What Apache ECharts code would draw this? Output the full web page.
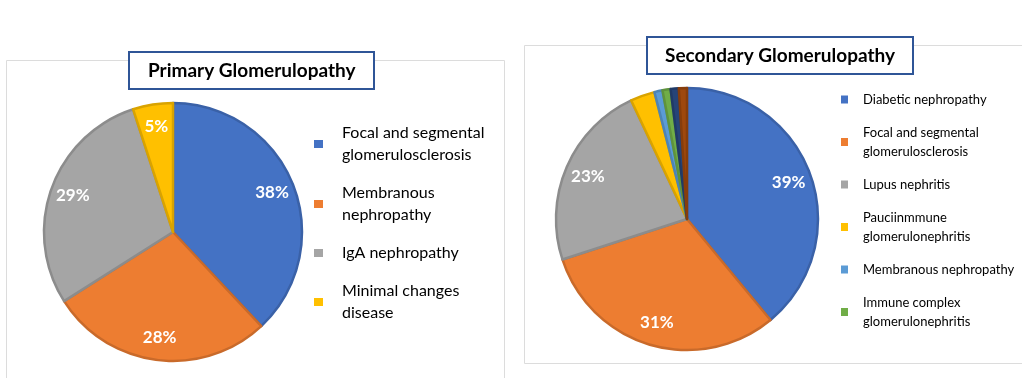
<!DOCTYPE html>
<html>
<head>
<meta charset="utf-8">
<script src="https://cdn.jsdelivr.net/npm/echarts@6/dist/echarts.min.js"></script>
<style>
html,body{margin:0;padding:0;background:#fff;}
#chart{width:1022px;height:378px;}
</style>
</head>
<body>
<div id="chart"></div>
<script>
// ---- data ----
const primaryTitle = 'Primary Glomerulopathy';
const primaryNames = ['Focal and segmental\nglomerulosclerosis', 'Membranous\nnephropathy', 'IgA nephropathy', 'Minimal changes\ndisease'];
const primaryValues = [38, 28, 29, 5];
const primaryColors = ['#4472C4', '#ED7D31', '#A5A5A5', '#FFC000'];

const secondaryTitle = 'Secondary Glomerulopathy';
const secondaryNames = ['Diabetic nephropathy', 'Focal and segmental\nglomerulosclerosis ', 'Lupus nephritis', 'Pauciinmmune\nglomerulonephritis', 'Membranous nephropathy', 'Immune complex\nglomerulonephritis', 'Other (a)', 'Other (b)'];
const secondaryValues = [39, 31, 23, 3, 1, 1, 1, 1];
const secondaryColors = ['#4472C4', '#ED7D31', '#A5A5A5', '#FFC000', '#5B9BD5', '#70AD47', '#264478', '#9E480E'];
const secondaryLegendCount = 6;

function darken(hex, f) {
  const n = parseInt(hex.slice(1), 16);
  const r = Math.round(((n >> 16) & 255) * f), g = Math.round(((n >> 8) & 255) * f), b = Math.round((n & 255) * f);
  return 'rgb(' + r + ',' + g + ',' + b + ')';
}
function pieData(names, values, colors) {
  return names.map((n, i) => ({
    name: n, value: values[i],
    itemStyle: { color: colors[i], borderColor: darken(colors[i], 0.85), borderWidth: 2.5 }
  }));
}
function labelData(names, values) {
  return names.map((n, i) => ({ name: n, value: values[i] }));
}
const FONT = 'Lato';

const chart = echarts.init(document.getElementById('chart'), null, { renderer: 'canvas' });

const labelStyle = {
  show: true, position: 'inside', color: '#fff', fontFamily: FONT, fontWeight: 'bold', fontSize: 17,
  formatter: p => (p.value >= 5 ? p.value + '%' : '')
};

const option = {
  backgroundColor: '#fff',
  animation: false,
  graphic: [
    { type: 'rect', z: -10, shape: { x: 6.5, y: 60.5, width: 498, height: 330 }, style: { fill: 'none', stroke: '#dcdcdc', lineWidth: 1 } },
    { type: 'rect', z: -10, shape: { x: 524.5, y: 45.5, width: 520, height: 318 }, style: { fill: 'none', stroke: '#dcdcdc', lineWidth: 1 } }
  ],
  title: [
    {
      text: primaryTitle, left: 129, top: 52, padding: [9, 19],
      borderColor: '#2F5597', borderWidth: 2, backgroundColor: '#fff',
      textStyle: { fontFamily: FONT, fontWeight: 'bold', fontSize: 19, color: '#000' }
    },
    {
      text: secondaryTitle, left: 647, top: 37, padding: [9, 18],
      borderColor: '#2F5597', borderWidth: 2, backgroundColor: '#fff',
      textStyle: { fontFamily: FONT, fontWeight: 'bold', fontSize: 19, color: '#000' }
    }
  ],
  legend: [
    {
      orient: 'vertical', left: 314, top: 122, padding: 0, itemGap: 16, itemWidth: 9, itemHeight: 8,
      icon: 'rect', selectedMode: false,
      itemStyle: { borderWidth: 0 },
      textStyle: { fontFamily: FONT, fontSize: 16, lineHeight: 22, color: '#000', padding: [0, 0, 0, 14] },
      data: primaryNames.map((n, i) => ({ name: n, itemStyle: { color: primaryColors[i], borderWidth: 0 } }))
    },
    {
      orient: 'vertical', left: 841, top: 90, padding: 0, itemGap: 14, itemWidth: 7, itemHeight: 8,
      icon: 'rect', selectedMode: false,
      itemStyle: { borderWidth: 0 },
      textStyle: { fontFamily: FONT, fontSize: 13, lineHeight: 19, color: '#000', padding: [0, 0, 0, 10] },
      data: secondaryNames.slice(0, secondaryLegendCount).map((n, i) => ({ name: n, itemStyle: { color: secondaryColors[i], borderWidth: 0 } }))
    }
  ],
  series: [
    {
      type: 'pie', center: [173, 232], radius: [0, 129], startAngle: 90, clockwise: true,
      label: { show: false }, labelLine: { show: false }, emphasis: { disabled: true },
      data: pieData(primaryNames, primaryValues, primaryColors)
    },
    {
      type: 'pie', center: [173, 232], radius: [78, 129], startAngle: 90, clockwise: true, silent: true,
      itemStyle: { color: 'transparent', borderWidth: 0 }, label: labelStyle, labelLine: { show: false },
      emphasis: { disabled: true }, z: 5,
      data: labelData(primaryNames, primaryValues)
    },
    {
      type: 'pie', center: [687, 219], radius: [0, 131], startAngle: 90, clockwise: true,
      label: { show: false }, labelLine: { show: false }, emphasis: { disabled: true },
      data: pieData(secondaryNames, secondaryValues, secondaryColors)
    },
    {
      type: 'pie', center: [687, 219], radius: [79, 131], startAngle: 90, clockwise: true, silent: true,
      itemStyle: { color: 'transparent', borderWidth: 0 }, label: labelStyle, labelLine: { show: false },
      emphasis: { disabled: true }, z: 5,
      data: labelData(secondaryNames, secondaryValues)
    }
  ]
};
chart.setOption(option);
</script>
</body>
</html>
